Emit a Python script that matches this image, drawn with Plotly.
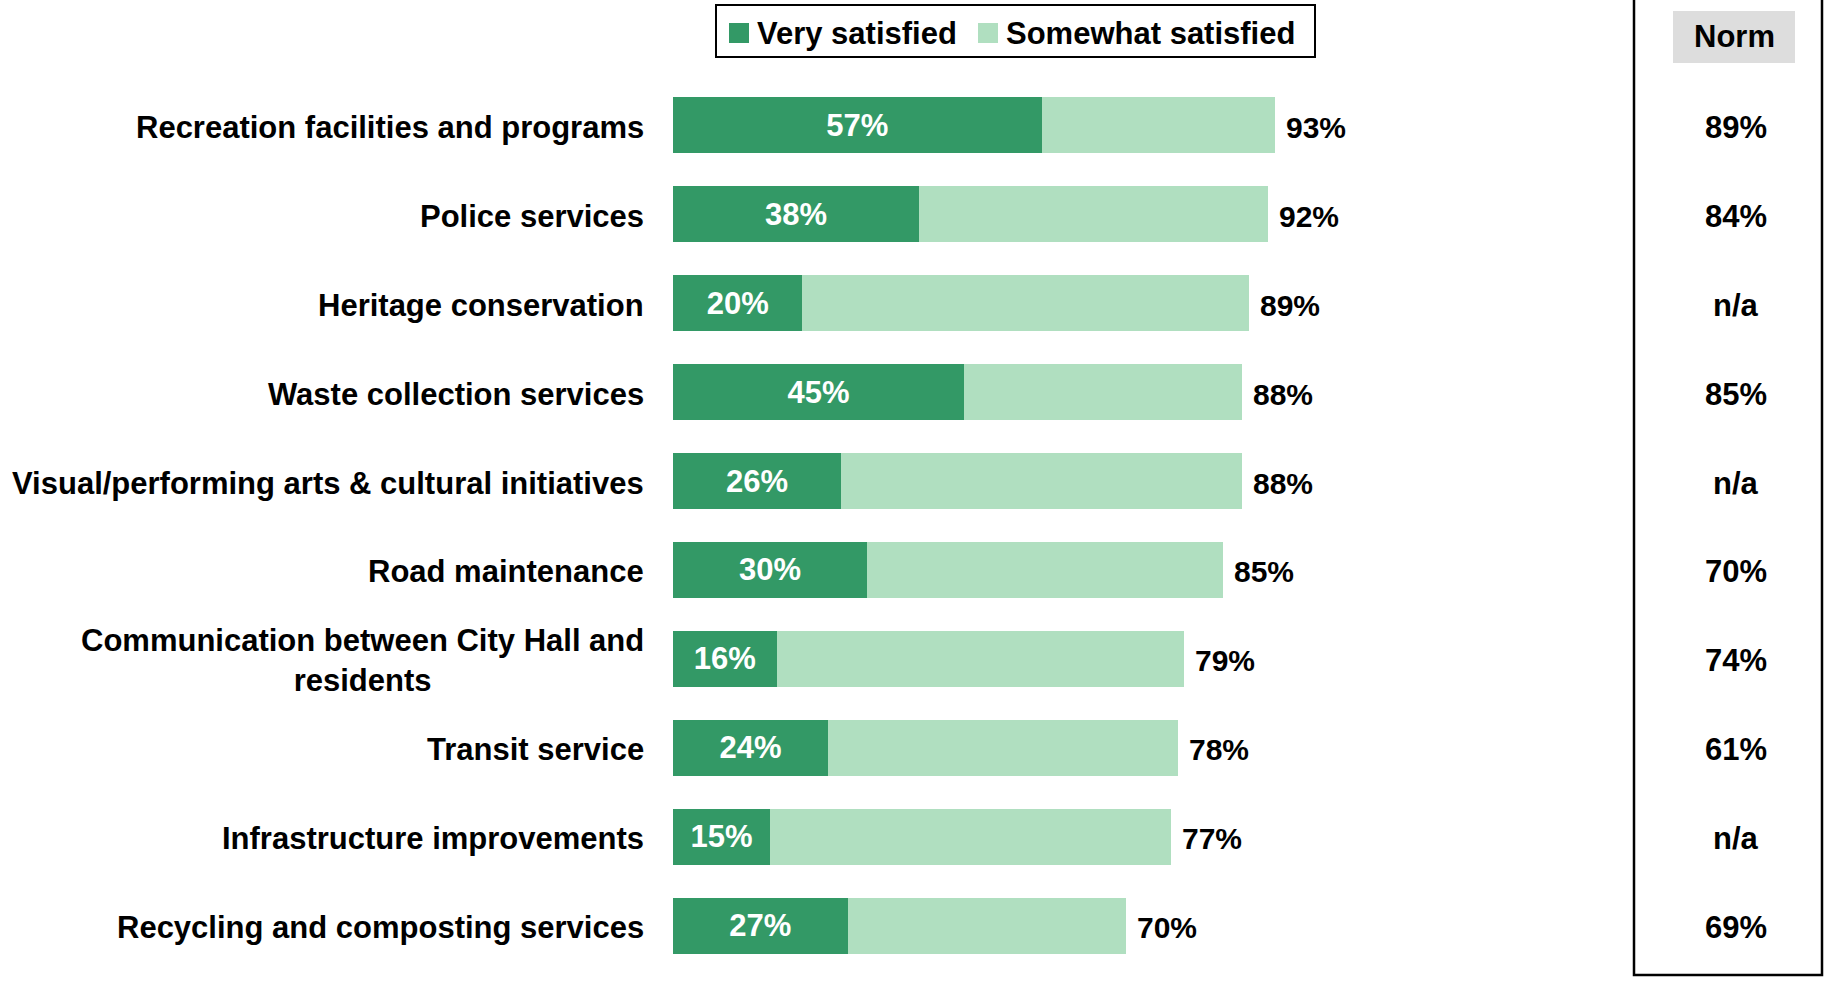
import plotly.graph_objects as go

# --- data ---
categories = [
    "Recreation facilities and programs",
    "Police services",
    "Heritage conservation",
    "Waste collection services",
    "Visual/performing arts & cultural initiatives",
    "Road maintenance",
    "Communication between City Hall and<br>residents",
    "Transit service",
    "Infrastructure improvements",
    "Recycling and composting services",
]
very_satisfied = [57, 38, 20, 45, 26, 30, 16, 24, 15, 27]
somewhat_satisfied = [36, 54, 69, 43, 62, 55, 63, 54, 62, 43]
total_satisfied = [93, 92, 89, 88, 88, 85, 79, 78, 77, 70]
norm_labels = ["89%", "84%", "n/a", "85%", "n/a", "70%", "74%", "61%", "n/a", "69%"]

DARK = "#339966"
LIGHT = "#B0DFC0"
FONT = "Liberation Sans, Arial, sans-serif"

W_FIG, H_FIG = 1833, 981
ML, MR, MT, MB = 673, 196, 81, 11
PW = W_FIG - ML - MR
PH = H_FIG - MT - MB


def px_x(px):
    return (px - ML) / PW


def px_y(py):
    return 1 - (py - MT) / PH


def bold(size, color="black"):
    return dict(family=FONT, size=size, color=color, weight="bold")


fig = go.Figure()

fig.add_trace(go.Bar(
    y=categories, x=very_satisfied, orientation="h", name="Very satisfied",
    marker=dict(color=DARK, line_width=0),
    text=[f"{v}%" for v in very_satisfied], textposition="inside",
    insidetextanchor="middle", textfont=bold(31, "white"),
    showlegend=False,
))
fig.add_trace(go.Bar(
    y=categories, x=somewhat_satisfied, orientation="h", name="Somewhat satisfied",
    marker=dict(color=LIGHT, line_width=0),
    showlegend=False,
))

# total labels at the end of each bar
for cat, tot in zip(categories, total_satisfied):
    fig.add_annotation(x=tot, y=cat, xref="x", yref="y", text=f"{tot}%",
                       showarrow=False, xanchor="left", yanchor="middle",
                       xshift=9, yshift=-2, font=bold(30))

# category labels (centered lines, right aligned block)
for cat in categories:
    fig.add_annotation(x=0, y=cat, xref="paper", yref="y", text=cat,
                       showarrow=False, xanchor="right", yanchor="middle",
                       xshift=-27, yshift=-2, align="center", font=bold(31))

# norm column
norm_x = px_x(1736)
for cat, lab in zip(categories, norm_labels):
    fig.add_annotation(x=norm_x, y=cat, xref="paper", yref="y", text=lab,
                       showarrow=False, xanchor="center", yanchor="middle",
                       yshift=-2, font=bold(31))

fig.add_shape(type="rect", xref="paper", yref="paper",
              x0=px_x(1673), x1=px_x(1795), y0=px_y(63), y1=px_y(11),
              fillcolor="#DDDDDD", line_width=0)
fig.add_annotation(x=px_x(1734), y=px_y(37), xref="paper", yref="paper", text="Norm",
                   showarrow=False, xanchor="center", yanchor="middle", font=bold(31))
fig.add_shape(type="path", xref="paper", yref="paper",
              path=f"M {px_x(1634)},{px_y(-5)} L {px_x(1634)},{px_y(975)} "
                   f"L {px_x(1822)},{px_y(975)} L {px_x(1822)},{px_y(-5)}",
              line=dict(color="black", width=2.5))

# legend box
fig.add_shape(type="rect", xref="paper", yref="paper",
              x0=px_x(716), x1=px_x(1315), y0=px_y(57), y1=px_y(5),
              line=dict(color="black", width=2), fillcolor="white")
for sx, color, label in [(729, DARK, "Very satisfied"), (978, LIGHT, "Somewhat satisfied")]:
    fig.add_shape(type="rect", xref="paper", yref="paper",
                  x0=px_x(sx), x1=px_x(sx + 20), y0=px_y(43), y1=px_y(23),
                  fillcolor=color, line_width=0)
    fig.add_annotation(x=px_x(sx + 26), y=px_y(33), xref="paper", yref="paper",
                       text=label, showarrow=False, xanchor="left", yanchor="middle",
                       font=bold(31))

fig.update_layout(
    width=W_FIG, height=H_FIG,
    barmode="stack", bargap=0.37,
    margin=dict(l=ML, r=MR, t=MT, b=MB, autoexpand=False),
    plot_bgcolor="white", paper_bgcolor="white",
    font=dict(family=FONT),
)
fig.update_xaxes(range=[0, 149], visible=False, fixedrange=True)
fig.update_yaxes(autorange="reversed", showticklabels=False, showgrid=False,
                 zeroline=False, ticks="", fixedrange=True)

# drop the default page margin so the figure fills the window exactly
fig.write_html("out.html", config={"displayModeBar": False},
               post_script="document.body.style.margin='0';")
